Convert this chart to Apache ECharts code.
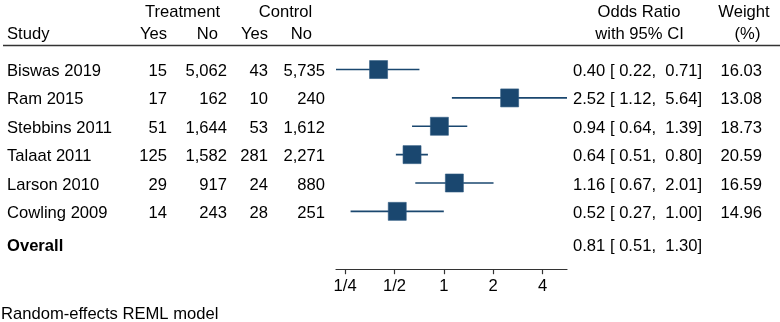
<!DOCTYPE html>
<html><head><meta charset="utf-8">
<script src="https://cdn.jsdelivr.net/npm/echarts@6/dist/echarts.min.js"></script>
<style>html,body{margin:0;padding:0;background:#fff}#c{width:780px;height:322px}</style>
</head><body><div id="c"></div>
<script>
// ---- data ----
const studies = ['Biswas 2019', 'Ram 2015', 'Stebbins 2011', 'Talaat 2011', 'Larson 2010', 'Cowling 2009'];
const trtYes = [15, 17, 51, 125, 29, 14];
const trtNo = [5062, 162, 1644, 1582, 917, 243];
const ctlYes = [43, 10, 53, 281, 24, 28];
const ctlNo = [5735, 240, 1612, 2271, 880, 251];
const oddsRatio = [0.40, 2.52, 0.94, 0.64, 1.16, 0.52];
const ciLow = [0.22, 1.12, 0.64, 0.51, 0.67, 0.27];
const ciHigh = [0.71, 5.64, 1.39, 0.80, 2.01, 1.00];
const weights = [16.03, 13.08, 18.73, 20.59, 16.59, 14.96];
const overallLabel = 'Overall';
const overallEst = [0.81, 0.51, 1.30];
const tickValues = [0.25, 0.5, 1, 2, 4];
const tickLabels = ['1/4', '1/2', '1', '2', '4'];
const footnote = 'Random-effects REML model';

// ---- helpers ----
const FAM = '"Liberation Sans", Arial, Helvetica, sans-serif';
const FS = 16.6;
const FONT = FS + 'px ' + FAM;
const BOLD = 'bold ' + FS + 'px ' + FAM;
const NAVY = '#1a476f';
function fmtInt(n) { return String(n).replace(/\B(?=(\d{3})+(?!\d))/g, ','); }
function pad(v) { const s = v.toFixed(2); return s.length < 5 ? ' ' + s : s; }
function orText(e, l, h) { return e.toFixed(2) + ' [' + pad(l) + ', ' + pad(h) + ']'; }
function txt(x, y, text, align, font) {
  return { type: 'text', x: x, y: y, silent: true,
    style: { text: text, font: font || FONT, fill: '#000', align: align, verticalAlign: 'middle',
      textAlign: align, textVerticalAlign: 'middle' } };
}

const overallRow = 6.18;
const TXT_DY = 2;
const tableRows = studies.map((s, i) => [0, i]).concat([[0, overallRow]]);
const forestRows = studies.map((s, i) => [oddsRatio[i], i, ciLow[i], ciHigh[i]]);

const chart = echarts.init(document.getElementById('c'), null, { renderer: 'canvas' });
const yCommon = { type: 'value', min: -1, max: 7.04, inverse: true, show: false };

chart.setOption({
  animation: false,
  backgroundColor: '#fff',
  grid: [
    { left: 0, right: 0, top: 41.2, bottom: 52.8 },
    { left: 336, right: 213, top: 41.2, bottom: 52.8 }
  ],
  xAxis: [
    { gridIndex: 0, type: 'value', min: 0, max: 780, show: false },
    { gridIndex: 1, type: 'log', logBase: 2, min: 0.22, max: 5.64,
      axisLine: { show: true, onZero: false, lineStyle: { color: '#333', width: 1.2 } },
      axisTick: { show: true, length: 5, lineStyle: { color: '#333', width: 1.2 }, customValues: tickValues },
      axisLabel: { show: true, margin: 9, color: '#000', fontSize: FS, fontFamily: FAM,
        customValues: tickValues,
        formatter: v => { const k = tickValues.findIndex(t => Math.abs(t - v) < 1e-9); return k >= 0 ? tickLabels[k] : ''; } },
      splitLine: { show: false }, minorTick: { show: false } }
  ],
  yAxis: [
    Object.assign({ gridIndex: 0 }, yCommon),
    Object.assign({ gridIndex: 1 }, yCommon)
  ],
  graphic: [
    txt(182.5, 12, 'Treatment', 'center'),
    txt(285.5, 12, 'Control', 'center'),
    txt(639, 12, 'Odds Ratio', 'center'),
    txt(744, 12, 'Weight', 'center'),
    txt(7, 34, 'Study', 'left'),
    txt(167, 34, 'Yes', 'right'),
    txt(218, 34, 'No', 'right'),
    txt(268, 34, 'Yes', 'right'),
    txt(312, 34, 'No', 'right'),
    txt(639.5, 34, 'with 95% CI', 'center'),
    txt(747.5, 34, '(%)', 'center'),
    { type: 'line', silent: true, shape: { x1: 3, y1: 45.5, x2: 780, y2: 45.5 }, style: { stroke: '#333', lineWidth: 1.5 } },
    txt(1, 314, footnote, 'left')
  ],
  series: [
    {
      type: 'custom', xAxisIndex: 0, yAxisIndex: 0, data: tableRows, clip: false,
      renderItem: function (params, api) {
        const i = params.dataIndex;
        const y = api.coord([0, api.value(1)])[1] + TXT_DY;
        if (i < studies.length) {
          return { type: 'group', children: [
            txt(7, y, studies[i], 'left'),
            txt(167, y, fmtInt(trtYes[i]), 'right'),
            txt(227, y, fmtInt(trtNo[i]), 'right'),
            txt(268, y, fmtInt(ctlYes[i]), 'right'),
            txt(325, y, fmtInt(ctlNo[i]), 'right'),
            txt(573, y, orText(oddsRatio[i], ciLow[i], ciHigh[i]), 'left'),
            txt(762, y, weights[i].toFixed(2), 'right')
          ] };
        }
        return { type: 'group', children: [
          txt(7, y, overallLabel, 'left', BOLD),
          txt(573, y, orText(overallEst[0], overallEst[1], overallEst[2]), 'left')
        ] };
      }
    },
    {
      type: 'custom', xAxisIndex: 1, yAxisIndex: 1, data: forestRows, clip: false,
      renderItem: function (params, api) {
        const row = api.value(1);
        const c = api.coord([api.value(0), row]);
        const l = api.coord([api.value(2), row]);
        const h = api.coord([api.value(3), row]);
        const s = 18;
        return { type: 'group', children: [
          { type: 'line', shape: { x1: l[0], y1: l[1], x2: h[0], y2: h[1] }, style: { stroke: NAVY, lineWidth: 1.6 } },
          { type: 'rect', shape: { x: c[0] - s / 2, y: c[1] - s / 2, width: s, height: s }, style: { fill: NAVY, stroke: '#2f5a82', lineWidth: 0.6 } }
        ] };
      }
    }
  ]
});
</script>
</body></html>
